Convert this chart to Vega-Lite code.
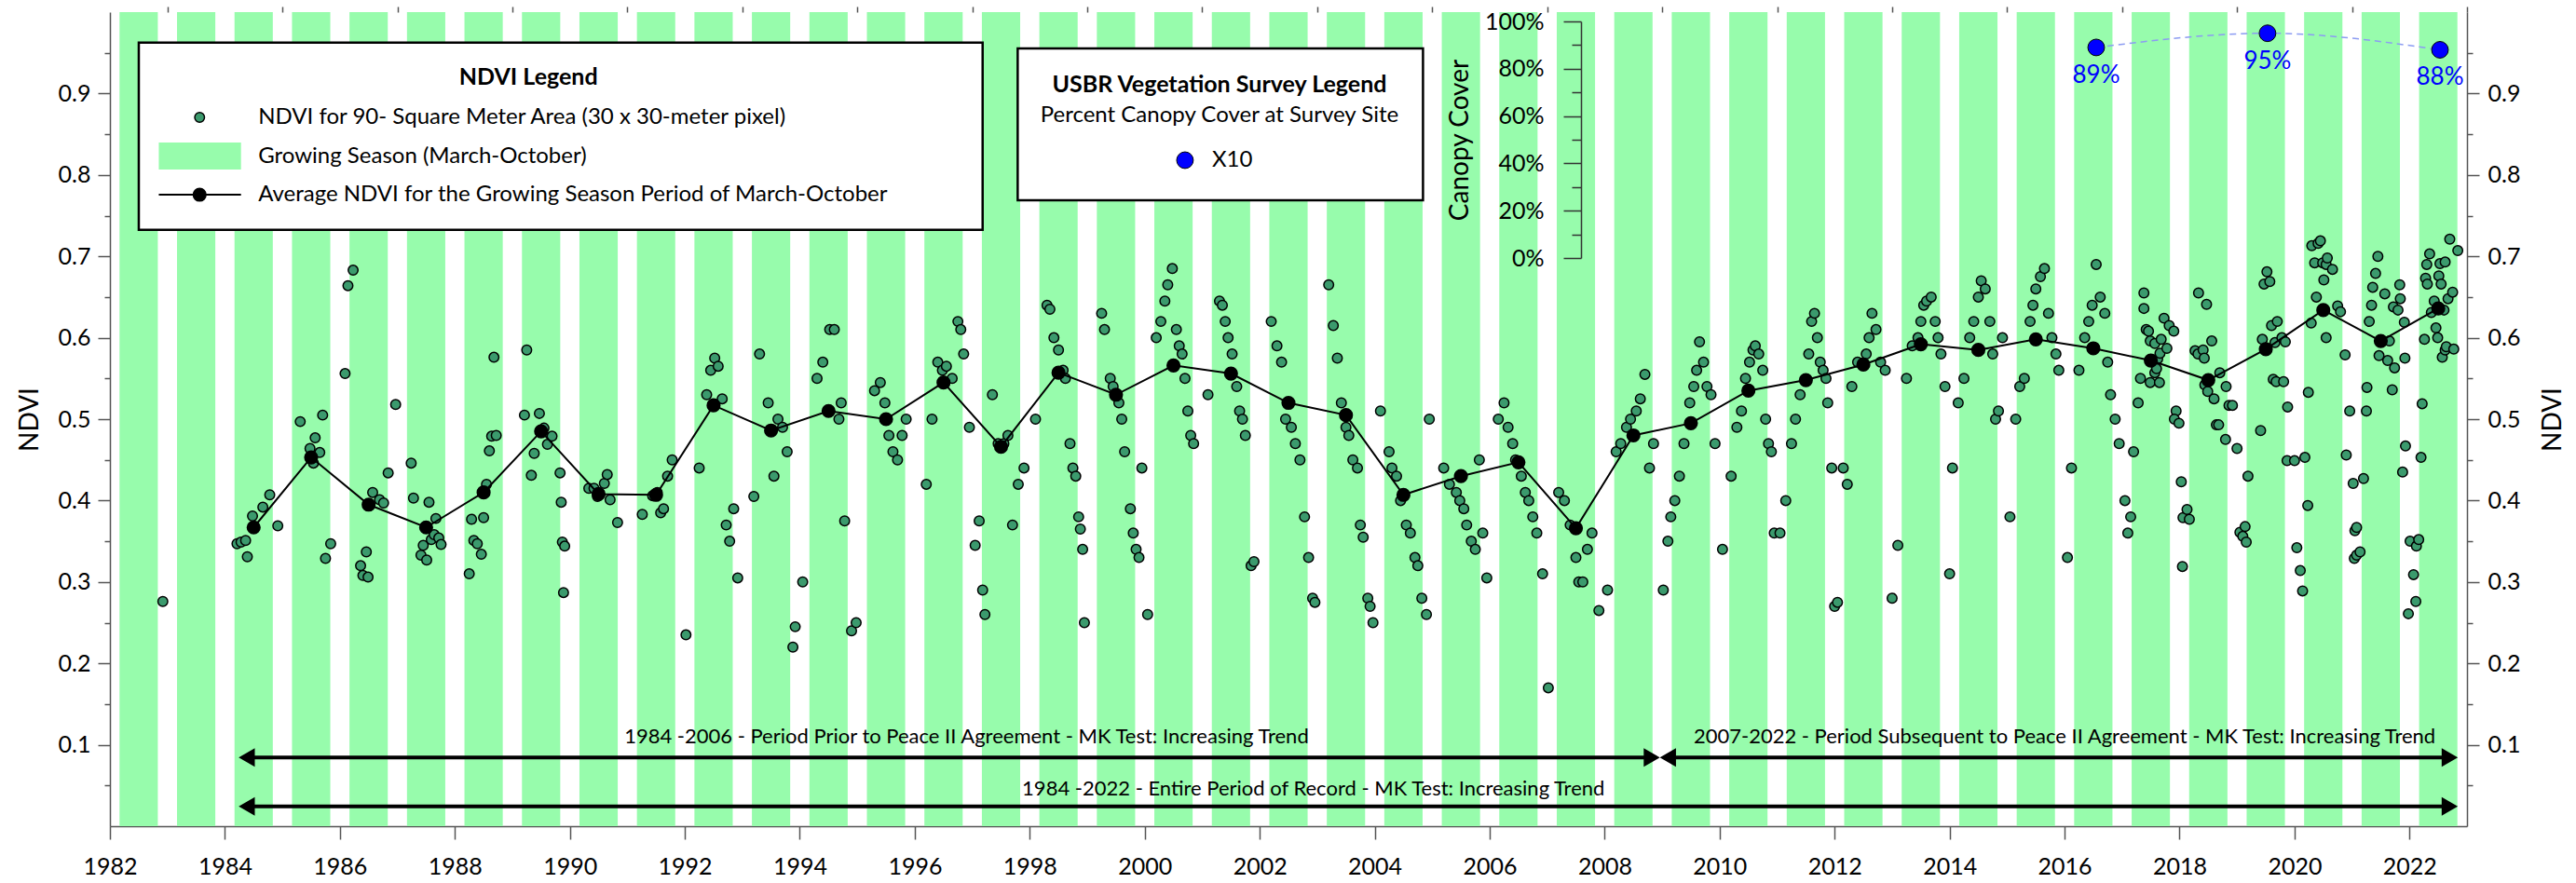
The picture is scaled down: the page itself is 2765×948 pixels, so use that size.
{
"$schema": "https://vega.github.io/schema/vega-lite/v6.json",
"width": 2530, "height": 874,
"autosize": "none",
"padding": {"left": 118, "top": 13, "right": 117, "bottom": 61},
"background": "white",
"config": {
  "view": {"stroke": null},
  "font": "Lato",
  "axis": {"grid": false, "domainColor": "#555", "tickColor": "#555", "domainWidth": 1.5, "tickWidth": 1.5, "labelFont": "Lato", "labelFontSize": 25, "labelColor": "#000", "titleFont": "Lato", "titleFontSize": 28, "titleFontWeight": "normal", "titleColor": "#000"}
},
"datasets": {
  "bands": [
    {"s":1982.167,"e":1982.833},{"s":1983.167,"e":1983.833},{"s":1984.167,"e":1984.833},{"s":1985.167,"e":1985.833},{"s":1986.167,"e":1986.833},{"s":1987.167,"e":1987.833},{"s":1988.167,"e":1988.833},{"s":1989.167,"e":1989.833},{"s":1990.167,"e":1990.833},{"s":1991.167,"e":1991.833},{"s":1992.167,"e":1992.833},{"s":1993.167,"e":1993.833},{"s":1994.167,"e":1994.833},{"s":1995.167,"e":1995.833},{"s":1996.167,"e":1996.833},{"s":1997.167,"e":1997.833},{"s":1998.167,"e":1998.833},{"s":1999.167,"e":1999.833},{"s":2000.167,"e":2000.833},{"s":2001.167,"e":2001.833},{"s":2002.167,"e":2002.833},{"s":2003.167,"e":2003.833},{"s":2004.167,"e":2004.833},{"s":2005.167,"e":2005.833},{"s":2006.167,"e":2006.833},{"s":2007.167,"e":2007.833},{"s":2008.167,"e":2008.833},{"s":2009.167,"e":2009.833},{"s":2010.167,"e":2010.833},{"s":2011.167,"e":2011.833},{"s":2012.167,"e":2012.833},{"s":2013.167,"e":2013.833},{"s":2014.167,"e":2014.833},{"s":2015.167,"e":2015.833},{"s":2016.167,"e":2016.833},{"s":2017.167,"e":2017.833},{"s":2018.167,"e":2018.833},{"s":2019.167,"e":2019.833},{"s":2020.167,"e":2020.833},{"s":2021.167,"e":2021.833},{"s":2022.167,"e":2022.833}
  ],
  "ndvi": [
    {"t":1982.92,"v":0.276},
    {"t":1984.21,"v":0.347},{"t":1984.28,"v":0.349},{"t":1984.36,"v":0.351},{"t":1984.39,"v":0.331},{"t":1984.48,"v":0.381},{"t":1984.66,"v":0.392},{"t":1984.78,"v":0.407},{"t":1984.92,"v":0.369},
    {"t":1985.31,"v":0.497},{"t":1985.48,"v":0.464},{"t":1985.57,"v":0.477},{"t":1985.54,"v":0.446},{"t":1985.65,"v":0.459},{"t":1985.70,"v":0.505},{"t":1985.75,"v":0.329},{"t":1985.84,"v":0.347},
    {"t":1986.09,"v":0.556},{"t":1986.14,"v":0.664},{"t":1986.23,"v":0.683},{"t":1986.36,"v":0.320},{"t":1986.40,"v":0.308},{"t":1986.46,"v":0.337},{"t":1986.49,"v":0.306},{"t":1986.57,"v":0.410},{"t":1986.69,"v":0.401},{"t":1986.76,"v":0.397},{"t":1986.84,"v":0.434},{"t":1986.97,"v":0.518},
    {"t":1987.24,"v":0.446},{"t":1987.28,"v":0.403},{"t":1987.41,"v":0.333},{"t":1987.45,"v":0.345},{"t":1987.51,"v":0.327},{"t":1987.55,"v":0.398},{"t":1987.59,"v":0.352},{"t":1987.64,"v":0.358},{"t":1987.67,"v":0.378},{"t":1987.72,"v":0.354},{"t":1987.76,"v":0.346},
    {"t":1988.25,"v":0.310},{"t":1988.29,"v":0.377},{"t":1988.33,"v":0.351},{"t":1988.39,"v":0.347},{"t":1988.46,"v":0.334},{"t":1988.50,"v":0.379},{"t":1988.55,"v":0.420},{"t":1988.60,"v":0.461},{"t":1988.64,"v":0.479},{"t":1988.72,"v":0.480},{"t":1988.68,"v":0.576},
    {"t":1989.21,"v":0.505},{"t":1989.25,"v":0.585},{"t":1989.33,"v":0.431},{"t":1989.38,"v":0.458},{"t":1989.47,"v":0.507},{"t":1989.55,"v":0.489},{"t":1989.61,"v":0.469},{"t":1989.69,"v":0.479},{"t":1989.83,"v":0.434},{"t":1989.85,"v":0.398},{"t":1989.87,"v":0.349},{"t":1989.91,"v":0.344},{"t":1989.89,"v":0.287},
    {"t":1990.33,"v":0.415},{"t":1990.42,"v":0.415},{"t":1990.48,"v":0.405},{"t":1990.49,"v":0.408},{"t":1990.60,"v":0.421},{"t":1990.65,"v":0.432},{"t":1990.70,"v":0.401},{"t":1990.83,"v":0.373},
    {"t":1991.26,"v":0.383},{"t":1991.44,"v":0.406},{"t":1991.52,"v":0.41},{"t":1991.58,"v":0.385},{"t":1991.63,"v":0.39},{"t":1991.70,"v":0.43},{"t":1991.78,"v":0.45},{"t":1992.02,"v":0.235},
    {"t":1992.25,"v":0.44},{"t":1992.38,"v":0.53},{"t":1992.45,"v":0.56},{"t":1992.52,"v":0.575},{"t":1992.58,"v":0.565},{"t":1992.65,"v":0.525},{"t":1992.72,"v":0.37},{"t":1992.78,"v":0.35},{"t":1992.85,"v":0.39},{"t":1992.92,"v":0.305},
    {"t":1993.20,"v":0.405},{"t":1993.30,"v":0.58},{"t":1993.45,"v":0.52},{"t":1993.55,"v":0.43},{"t":1993.62,"v":0.50},{"t":1993.70,"v":0.49},{"t":1993.78,"v":0.46},{"t":1993.88,"v":0.22},{"t":1993.92,"v":0.245},
    {"t":1994.05,"v":0.30},{"t":1994.30,"v":0.55},{"t":1994.40,"v":0.57},{"t":1994.52,"v":0.61},{"t":1994.60,"v":0.61},{"t":1994.68,"v":0.50},{"t":1994.72,"v":0.52},{"t":1994.78,"v":0.375},{"t":1994.90,"v":0.24},{"t":1994.98,"v":0.25},
    {"t":1995.30,"v":0.535},{"t":1995.40,"v":0.545},{"t":1995.48,"v":0.52},{"t":1995.55,"v":0.48},{"t":1995.62,"v":0.46},{"t":1995.70,"v":0.45},{"t":1995.78,"v":0.48},{"t":1995.85,"v":0.50},
    {"t":1996.20,"v":0.42},{"t":1996.30,"v":0.50},{"t":1996.40,"v":0.57},{"t":1996.48,"v":0.56},{"t":1996.55,"v":0.565},{"t":1996.65,"v":0.55},{"t":1996.75,"v":0.62},{"t":1996.80,"v":0.61},{"t":1996.85,"v":0.58},{"t":1996.95,"v":0.49},
    {"t":1997.05,"v":0.345},{"t":1997.12,"v":0.375},{"t":1997.18,"v":0.29},{"t":1997.22,"v":0.26},{"t":1997.35,"v":0.53},{"t":1997.45,"v":0.47},{"t":1997.55,"v":0.47},{"t":1997.62,"v":0.48},{"t":1997.70,"v":0.37},{"t":1997.80,"v":0.42},{"t":1997.90,"v":0.44},
    {"t":1998.10,"v":0.50},{"t":1998.30,"v":0.64},{"t":1998.35,"v":0.635},{"t":1998.42,"v":0.60},{"t":1998.50,"v":0.585},{"t":1998.58,"v":0.56},{"t":1998.62,"v":0.55},{"t":1998.70,"v":0.47},{"t":1998.75,"v":0.44},{"t":1998.80,"v":0.43},{"t":1998.85,"v":0.38},{"t":1998.88,"v":0.365},{"t":1998.92,"v":0.34},{"t":1998.95,"v":0.25},
    {"t":1999.25,"v":0.63},{"t":1999.30,"v":0.61},{"t":1999.40,"v":0.55},{"t":1999.45,"v":0.54},{"t":1999.55,"v":0.52},{"t":1999.60,"v":0.50},{"t":1999.65,"v":0.46},{"t":1999.75,"v":0.39},{"t":1999.80,"v":0.36},{"t":1999.85,"v":0.34},{"t":1999.90,"v":0.33},{"t":1999.95,"v":0.44},
    {"t":2000.05,"v":0.26},{"t":2000.20,"v":0.60},{"t":2000.28,"v":0.62},{"t":2000.35,"v":0.645},{"t":2000.40,"v":0.665},{"t":2000.48,"v":0.685},{"t":2000.55,"v":0.61},{"t":2000.60,"v":0.59},{"t":2000.65,"v":0.58},{"t":2000.70,"v":0.55},{"t":2000.75,"v":0.51},{"t":2000.80,"v":0.48},{"t":2000.85,"v":0.47},
    {"t":2001.10,"v":0.53},{"t":2001.30,"v":0.645},{"t":2001.35,"v":0.64},{"t":2001.40,"v":0.62},{"t":2001.45,"v":0.60},{"t":2001.52,"v":0.58},{"t":2001.60,"v":0.54},{"t":2001.65,"v":0.51},{"t":2001.70,"v":0.50},{"t":2001.75,"v":0.48},{"t":2001.85,"v":0.32},{"t":2001.90,"v":0.325},
    {"t":2002.20,"v":0.62},{"t":2002.30,"v":0.59},{"t":2002.38,"v":0.57},{"t":2002.45,"v":0.50},{"t":2002.55,"v":0.49},{"t":2002.62,"v":0.47},{"t":2002.70,"v":0.45},{"t":2002.78,"v":0.38},{"t":2002.85,"v":0.33},{"t":2002.92,"v":0.28},{"t":2002.96,"v":0.275},
    {"t":2003.20,"v":0.665},{"t":2003.28,"v":0.615},{"t":2003.35,"v":0.575},{"t":2003.42,"v":0.52},{"t":2003.50,"v":0.49},{"t":2003.55,"v":0.48},{"t":2003.62,"v":0.45},{"t":2003.70,"v":0.44},{"t":2003.75,"v":0.37},{"t":2003.80,"v":0.355},{"t":2003.88,"v":0.28},{"t":2003.92,"v":0.27},{"t":2003.97,"v":0.25},
    {"t":2004.10,"v":0.51},{"t":2004.25,"v":0.46},{"t":2004.30,"v":0.44},{"t":2004.38,"v":0.43},{"t":2004.45,"v":0.40},{"t":2004.55,"v":0.37},{"t":2004.62,"v":0.36},{"t":2004.70,"v":0.33},{"t":2004.75,"v":0.32},{"t":2004.82,"v":0.28},{"t":2004.90,"v":0.26},{"t":2004.95,"v":0.50},
    {"t":2005.20,"v":0.44},{"t":2005.30,"v":0.42},{"t":2005.42,"v":0.41},{"t":2005.48,"v":0.40},{"t":2005.55,"v":0.39},{"t":2005.60,"v":0.37},{"t":2005.68,"v":0.35},{"t":2005.75,"v":0.34},{"t":2005.82,"v":0.45},{"t":2005.88,"v":0.36},{"t":2005.95,"v":0.305},
    {"t":2006.15,"v":0.50},{"t":2006.25,"v":0.52},{"t":2006.32,"v":0.49},{"t":2006.40,"v":0.47},{"t":2006.45,"v":0.45},{"t":2006.55,"v":0.43},{"t":2006.62,"v":0.41},{"t":2006.68,"v":0.40},{"t":2006.75,"v":0.38},{"t":2006.82,"v":0.36},{"t":2006.92,"v":0.31},
    {"t":2007.02,"v":0.17},{"t":2007.20,"v":0.41},{"t":2007.30,"v":0.40},{"t":2007.40,"v":0.37},{"t":2007.50,"v":0.33},{"t":2007.55,"v":0.30},{"t":2007.62,"v":0.30},{"t":2007.70,"v":0.34},{"t":2007.78,"v":0.36},{"t":2007.90,"v":0.265},
    {"t":2008.05,"v":0.29},{"t":2008.20,"v":0.46},{"t":2008.28,"v":0.47},{"t":2008.38,"v":0.49},{"t":2008.45,"v":0.50},{"t":2008.55,"v":0.51},{"t":2008.62,"v":0.525},{"t":2008.70,"v":0.555},{"t":2008.78,"v":0.44},{"t":2008.85,"v":0.47},
    {"t":2009.02,"v":0.29},{"t":2009.10,"v":0.35},{"t":2009.15,"v":0.38},{"t":2009.22,"v":0.40},{"t":2009.30,"v":0.43},{"t":2009.38,"v":0.47},{"t":2009.48,"v":0.52},{"t":2009.55,"v":0.54},{"t":2009.60,"v":0.56},{"t":2009.65,"v":0.595},{"t":2009.72,"v":0.57},{"t":2009.78,"v":0.54},{"t":2009.85,"v":0.53},{"t":2009.92,"v":0.47},
    {"t":2010.05,"v":0.34},{"t":2010.20,"v":0.43},{"t":2010.30,"v":0.49},{"t":2010.38,"v":0.51},{"t":2010.45,"v":0.55},{"t":2010.52,"v":0.57},{"t":2010.58,"v":0.585},{"t":2010.62,"v":0.59},{"t":2010.68,"v":0.58},{"t":2010.75,"v":0.56},{"t":2010.80,"v":0.50},{"t":2010.85,"v":0.47},{"t":2010.90,"v":0.46},{"t":2010.95,"v":0.36},
    {"t":2011.05,"v":0.36},{"t":2011.15,"v":0.40},{"t":2011.25,"v":0.47},{"t":2011.32,"v":0.50},{"t":2011.40,"v":0.53},{"t":2011.55,"v":0.58},{"t":2011.60,"v":0.62},{"t":2011.65,"v":0.63},{"t":2011.70,"v":0.60},{"t":2011.75,"v":0.57},{"t":2011.80,"v":0.56},{"t":2011.85,"v":0.55},{"t":2011.88,"v":0.52},{"t":2011.95,"v":0.44},
    {"t":2012.00,"v":0.27},{"t":2012.05,"v":0.275},{"t":2012.15,"v":0.44},{"t":2012.22,"v":0.42},{"t":2012.30,"v":0.54},{"t":2012.40,"v":0.57},{"t":2012.55,"v":0.58},{"t":2012.60,"v":0.60},{"t":2012.65,"v":0.63},{"t":2012.72,"v":0.61},{"t":2012.80,"v":0.57},{"t":2012.88,"v":0.56},
    {"t":2013.00,"v":0.28},{"t":2013.10,"v":0.345},{"t":2013.25,"v":0.55},{"t":2013.35,"v":0.59},{"t":2013.45,"v":0.60},{"t":2013.50,"v":0.62},{"t":2013.55,"v":0.64},{"t":2013.60,"v":0.645},{"t":2013.68,"v":0.65},{"t":2013.75,"v":0.62},{"t":2013.80,"v":0.60},{"t":2013.85,"v":0.58},{"t":2013.92,"v":0.54},
    {"t":2014.00,"v":0.31},{"t":2014.05,"v":0.44},{"t":2014.15,"v":0.52},{"t":2014.25,"v":0.55},{"t":2014.35,"v":0.60},{"t":2014.42,"v":0.62},{"t":2014.50,"v":0.65},{"t":2014.55,"v":0.67},{"t":2014.62,"v":0.66},{"t":2014.70,"v":0.62},{"t":2014.75,"v":0.58},{"t":2014.80,"v":0.50},{"t":2014.85,"v":0.51},{"t":2014.92,"v":0.60},
    {"t":2015.05,"v":0.38},{"t":2015.15,"v":0.50},{"t":2015.22,"v":0.54},{"t":2015.30,"v":0.55},{"t":2015.40,"v":0.62},{"t":2015.45,"v":0.64},{"t":2015.50,"v":0.66},{"t":2015.58,"v":0.675},{"t":2015.65,"v":0.685},{"t":2015.72,"v":0.63},{"t":2015.78,"v":0.60},{"t":2015.85,"v":0.58},{"t":2015.90,"v":0.56},
    {"t":2016.05,"v":0.33},{"t":2016.12,"v":0.44},{"t":2016.25,"v":0.56},{"t":2016.35,"v":0.60},{"t":2016.42,"v":0.62},{"t":2016.48,"v":0.64},{"t":2016.55,"v":0.69},{"t":2016.62,"v":0.65},{"t":2016.70,"v":0.63},{"t":2016.75,"v":0.57},{"t":2016.80,"v":0.53},{"t":2016.88,"v":0.50},{"t":2016.95,"v":0.47},
    {"t":2017.05,"v":0.40},{"t":2017.10,"v":0.36},{"t":2017.15,"v":0.38},{"t":2017.20,"v":0.46},{"t":2017.28,"v":0.52},{"t":2017.32,"v":0.55},
    {"t":2017.38,"v":0.655},{"t":2017.38,"v":0.636},{"t":2017.42,"v":0.610},{"t":2017.46,"v":0.608},{"t":2017.49,"v":0.596},{"t":2017.49,"v":0.545},{"t":2017.57,"v":0.593},{"t":2017.57,"v":0.557},{"t":2017.60,"v":0.562},{"t":2017.62,"v":0.574},{"t":2017.65,"v":0.545},{"t":2017.66,"v":0.581},{"t":2017.68,"v":0.598},{"t":2017.73,"v":0.624},{"t":2017.78,"v":0.587},{"t":2017.82,"v":0.615},{"t":2017.90,"v":0.608},{"t":2017.94,"v":0.510},{"t":2017.91,"v":0.500},{"t":2017.99,"v":0.495},{"t":2018.03,"v":0.423},{"t":2018.06,"v":0.379},{"t":2018.13,"v":0.389},{"t":2018.17,"v":0.377},{"t":2018.05,"v":0.319},
    {"t":2018.27,"v":0.584},{"t":2018.33,"v":0.655},{"t":2018.32,"v":0.580},{"t":2018.41,"v":0.585},{"t":2018.43,"v":0.575},{"t":2018.47,"v":0.641},{"t":2018.56,"v":0.596},{"t":2018.44,"v":0.542},{"t":2018.49,"v":0.534},{"t":2018.60,"v":0.525},{"t":2018.64,"v":0.493},{"t":2018.68,"v":0.493},{"t":2018.70,"v":0.557},{"t":2018.80,"v":0.475},{"t":2018.81,"v":0.540},{"t":2018.86,"v":0.517},{"t":2018.92,"v":0.517},
    {"t":2019.00,"v":0.464},{"t":2019.05,"v":0.361},{"t":2019.10,"v":0.356},{"t":2019.16,"v":0.349},{"t":2019.14,"v":0.368},{"t":2019.19,"v":0.430},{"t":2019.41,"v":0.486},{"t":2019.44,"v":0.598},{"t":2019.47,"v":0.666},{"t":2019.52,"v":0.681},{"t":2019.57,"v":0.669},{"t":2019.60,"v":0.615},{"t":2019.63,"v":0.549},{"t":2019.66,"v":0.594},{"t":2019.68,"v":0.546},{"t":2019.70,"v":0.620},{"t":2019.78,"v":0.600},{"t":2019.81,"v":0.546},{"t":2019.84,"v":0.595},{"t":2019.87,"v":0.449},{"t":2019.88,"v":0.515},
    {"t":2020.00,"v":0.449},{"t":2020.04,"v":0.342},{"t":2020.10,"v":0.314},{"t":2020.14,"v":0.289},{"t":2020.18,"v":0.453},{"t":2020.23,"v":0.394},{"t":2020.24,"v":0.533},{"t":2020.29,"v":0.618},{"t":2020.30,"v":0.713},{"t":2020.35,"v":0.692},{"t":2020.38,"v":0.650},{"t":2020.41,"v":0.716},{"t":2020.45,"v":0.719},{"t":2020.49,"v":0.692},{"t":2020.51,"v":0.671},{"t":2020.55,"v":0.690},{"t":2020.57,"v":0.698},{"t":2020.55,"v":0.600},{"t":2020.66,"v":0.684},{"t":2020.75,"v":0.639},{"t":2020.80,"v":0.632},{"t":2020.88,"v":0.579},
    {"t":2020.90,"v":0.456},{"t":2020.96,"v":0.510},{"t":2021.02,"v":0.421},{"t":2021.05,"v":0.363},{"t":2021.08,"v":0.367},{"t":2021.04,"v":0.329},{"t":2021.08,"v":0.333},{"t":2021.14,"v":0.337},{"t":2021.20,"v":0.427},{"t":2021.26,"v":0.539},{"t":2021.25,"v":0.510},{"t":2021.30,"v":0.620},{"t":2021.34,"v":0.640},{"t":2021.36,"v":0.662},{"t":2021.41,"v":0.679},{"t":2021.45,"v":0.700},{"t":2021.47,"v":0.578},{"t":2021.57,"v":0.654},{"t":2021.62,"v":0.572},{"t":2021.65,"v":0.596},{"t":2021.70,"v":0.536},{"t":2021.74,"v":0.563},{"t":2021.72,"v":0.638},{"t":2021.80,"v":0.634},{"t":2021.83,"v":0.665},{"t":2021.84,"v":0.648},{"t":2021.91,"v":0.619},{"t":2021.92,"v":0.575},{"t":2021.88,"v":0.435},{"t":2021.93,"v":0.467},
    {"t":2021.98,"v":0.261},{"t":2022.01,"v":0.350},{"t":2022.07,"v":0.309},{"t":2022.12,"v":0.344},{"t":2022.11,"v":0.276},{"t":2022.16,"v":0.352},{"t":2022.20,"v":0.453},{"t":2022.22,"v":0.519},{"t":2022.26,"v":0.598},{"t":2022.28,"v":0.673},{"t":2022.30,"v":0.690},{"t":2022.31,"v":0.666},{"t":2022.35,"v":0.703},{"t":2022.38,"v":0.631},{"t":2022.43,"v":0.645},{"t":2022.46,"v":0.612},{"t":2022.49,"v":0.600},{"t":2022.51,"v":0.676},{"t":2022.53,"v":0.691},{"t":2022.55,"v":0.666},{"t":2022.57,"v":0.576},{"t":2022.60,"v":0.634},{"t":2022.62,"v":0.693},{"t":2022.62,"v":0.585},{"t":2022.64,"v":0.589},{"t":2022.67,"v":0.648},{"t":2022.70,"v":0.721},{"t":2022.75,"v":0.656},{"t":2022.77,"v":0.586},{"t":2022.84,"v":0.707}
  ],
  "avg": [
    {"t":1984.5,"v":0.367},{"t":1985.5,"v":0.453},{"t":1986.5,"v":0.395},{"t":1987.5,"v":0.367},{"t":1988.5,"v":0.41},{"t":1989.5,"v":0.485},{"t":1990.5,"v":0.408},{"t":1991.5,"v":0.407},{"t":1992.5,"v":0.517},{"t":1993.5,"v":0.486},{"t":1994.5,"v":0.51},{"t":1995.5,"v":0.50},{"t":1996.5,"v":0.545},{"t":1997.5,"v":0.466},{"t":1998.5,"v":0.557},{"t":1999.5,"v":0.53},{"t":2000.5,"v":0.566},{"t":2001.5,"v":0.556},{"t":2002.5,"v":0.52},{"t":2003.5,"v":0.505},{"t":2004.5,"v":0.407},{"t":2005.5,"v":0.43},{"t":2006.5,"v":0.447},{"t":2007.5,"v":0.366},{"t":2008.5,"v":0.48},{"t":2009.5,"v":0.495},{"t":2010.5,"v":0.535},{"t":2011.5,"v":0.548},{"t":2012.5,"v":0.567},{"t":2013.5,"v":0.592},{"t":2014.5,"v":0.585},{"t":2015.5,"v":0.598},{"t":2016.5,"v":0.587},{"t":2017.5,"v":0.572},{"t":2018.5,"v":0.548},{"t":2019.5,"v":0.586},{"t":2020.5,"v":0.634},{"t":2021.5,"v":0.596},{"t":2022.5,"v":0.636}
  ],
  "canopy": [
    {"t":2016.55,"c":89,"lab":"89%"},{"t":2019.53,"c":95,"lab":"95%"},{"t":2022.53,"c":88,"lab":"88%"}
  ],
  "rules": [
    {"a":1984.38,"b":2008.82,"y":0.0843},{"a":2009.10,"b":2022.70,"y":0.0843},{"a":1984.38,"b":2022.70,"y":0.0244}
  ],
  "heads": [
    {"t":1984.38,"y":0.0843,"d":"left"},{"t":2008.82,"y":0.0843,"d":"right"},{"t":2009.10,"y":0.0843,"d":"left"},{"t":2022.70,"y":0.0843,"d":"right"},{"t":1984.38,"y":0.0244,"d":"left"},{"t":2022.70,"y":0.0244,"d":"right"}
  ],
  "notesCenter": [
    {"t":1996.9,"y":0.110,"txt":"1984 -2006 - Period Prior to Peace II Agreement - MK Test: Increasing Trend"},
    {"t":2016.0,"y":0.110,"txt":"2007-2022 - Period Subsequent to Peace II Agreement - MK Test: Increasing Trend"}
  ],
  "notesRight": [
    {"t":2008.0,"y":0.0458,"txt":"1984 -2022 - Entire Period of Record - MK Test: Increasing Trend"}
  ],
  "legBoxes": [
    {"x1":1982.502,"x2":1997.18,"y1":0.9626,"y2":0.7326},
    {"x1":1997.79,"x2":2004.84,"y1":0.9554,"y2":0.7689}
  ],
  "legTitles": [
    {"t":1989.28,"y":0.920,"txt":"NDVI Legend"},
    {"t":2001.30,"y":0.9108,"txt":"USBR Vegetation Survey Legend"}
  ],
  "legCenter": [
    {"t":2001.30,"y":0.8730,"txt":"Percent Canopy Cover at Survey Site"}
  ],
  "legLeft": [
    {"t":1984.58,"y":0.8707,"txt":"NDVI for 90- Square Meter Area (30 x 30-meter pixel)"},
    {"t":1984.58,"y":0.8227,"txt":"Growing Season (March-October)"},
    {"t":1984.58,"y":0.7757,"txt":"Average NDVI for the Growing Season Period of March-October"},
    {"t":2001.17,"y":0.8181,"txt":"X10"}
  ],
  "legGreenDot": [{"t":1983.56,"y":0.8707}],
  "legRect": [{"x1":1982.85,"x2":1984.28,"y1":0.8398,"y2":0.8066}],
  "legLine": [{"x1":1982.85,"x2":1984.28,"y":0.7757}],
  "legBlackDot": [{"t":1983.56,"y":0.7757}],
  "legBlueDot": [{"t":2000.70,"y":0.8181}]
},
"layer": [
  {
    "layer": [
      {
        "data": {"name": "bands"},
        "mark": {"type": "rect", "color": "#97fcac", "opacity": 1},
        "encoding": {
          "x": {"field": "s", "type": "quantitative", "scale": {"domain": [1982, 2023], "nice": false, "zero": false},
                "axis": {"values": [1982,1984,1986,1988,1990,1992,1994,1996,1998,2000,2002,2004,2006,2008,2010,2012,2014,2016,2018,2020,2022], "format": "d", "tickSize": 14, "labelPadding": 17, "title": null, "labelOverlap": false, "labelFlush": false}},
          "x2": {"field": "e"}
        }
      },
      {
        "data": {"name": "legBoxes"},
        "mark": {"type": "rect", "fill": "white", "stroke": "#000", "strokeWidth": 2.5},
        "encoding": {
          "x": {"field": "x1", "type": "quantitative", "scale": {"domain": [1982, 2023]}, "axis": null},
          "x2": {"field": "x2"},
          "y": {"field": "y1", "type": "quantitative", "scale": {"domain": [0, 1]}, "axis": null},
          "y2": {"field": "y2"}
        }
      },
      {
        "data": {"name": "rules"},
        "mark": {"type": "rule", "stroke": "#000", "strokeWidth": 4},
        "encoding": {
          "x": {"field": "a", "type": "quantitative", "scale": {"domain": [1982, 2023]},
                "axis": {"values": [1983,1985,1987,1989,1991,1993,1995,1997,1999,2001,2003,2005,2007,2009,2011,2013,2015,2017,2019,2021,2023], "tickSize": 6, "labels": false, "domain": false, "title": null}},
          "x2": {"field": "b"},
          "y": {"field": "y", "type": "quantitative", "scale": {"domain": [0, 1]},
                "axis": {"orient": "right", "values": [0.05,0.15,0.25,0.35,0.45,0.55,0.65,0.75,0.85,0.95], "tickSize": 6, "labels": false, "domain": false, "title": null}}
        }
      },
      {
        "data": {"name": "heads"},
        "mark": {"type": "point", "filled": true, "color": "#000", "size": 400, "opacity": 1},
        "encoding": {
          "x": {"field": "t", "type": "quantitative", "scale": {"domain": [1982, 2023]}, "axis": null},
          "y": {"field": "y", "type": "quantitative", "scale": {"domain": [0, 1]},
                "axis": {"orient": "left", "values": [0.05,0.15,0.25,0.35,0.45,0.55,0.65,0.75,0.85,0.95], "tickSize": 6, "labels": false, "domain": false, "title": null}},
          "shape": {"field": "d", "type": "nominal", "scale": {"domain": ["left", "right"], "range": ["triangle-left", "triangle-right"]}, "legend": null}
        }
      },
      {
        "data": {"name": "notesCenter"},
        "mark": {"type": "text", "fontSize": 22, "color": "#000", "align": "center", "baseline": "middle"},
        "encoding": {
          "x": {"field": "t", "type": "quantitative", "scale": {"domain": [1982, 2023]}, "axis": null},
          "y": {"field": "y", "type": "quantitative", "scale": {"domain": [0, 1]}, "axis": null},
          "text": {"field": "txt"}
        }
      },
      {
        "data": {"name": "notesRight"},
        "mark": {"type": "text", "fontSize": 22, "color": "#000", "align": "right", "baseline": "middle"},
        "encoding": {
          "x": {"field": "t", "type": "quantitative", "scale": {"domain": [1982, 2023]}, "axis": null},
          "y": {"field": "y", "type": "quantitative", "scale": {"domain": [0, 1]}, "axis": null},
          "text": {"field": "txt"}
        }
      },
      {
        "data": {"name": "ndvi"},
        "mark": {"type": "circle", "size": 110, "fill": "#3b9a6d", "stroke": "#000", "strokeWidth": 1.5, "opacity": 1},
        "encoding": {
          "x": {"field": "t", "type": "quantitative", "scale": {"domain": [1982, 2023]}, "axis": null},
          "y": {"field": "v", "type": "quantitative", "scale": {"domain": [0, 1], "nice": false, "zero": false},
                "axis": {"orient": "left", "values": [0.1,0.2,0.3,0.4,0.5,0.6,0.7,0.8,0.9], "format": ".1f", "tickSize": 13, "labelPadding": 8, "title": "NDVI", "titleX": -86, "titleY": 437, "titleAngle": -90, "titleAlign": "center", "titleBaseline": "middle"}}
        }
      },
      {
        "data": {"name": "avg"},
        "mark": {"type": "line", "stroke": "#000", "strokeWidth": 2},
        "encoding": {
          "x": {"field": "t", "type": "quantitative", "scale": {"domain": [1982, 2023]}, "axis": null},
          "y": {"field": "v", "type": "quantitative", "scale": {"domain": [0, 1]},
                "axis": {"orient": "right", "values": [0.1,0.2,0.3,0.4,0.5,0.6,0.7,0.8,0.9], "format": ".1f", "tickSize": 13, "labelPadding": 9, "title": "NDVI", "titleX": 92, "titleY": 437, "titleAngle": -90, "titleAlign": "center", "titleBaseline": "middle"}}
        }
      },
      {
        "data": {"name": "avg"},
        "mark": {"type": "circle", "size": 230, "color": "#000", "opacity": 1},
        "encoding": {
          "x": {"field": "t", "type": "quantitative", "scale": {"domain": [1982, 2023]}, "axis": null},
          "y": {"field": "v", "type": "quantitative", "scale": {"domain": [0, 1]}, "axis": null}
        }
      },
      {
        "data": {"name": "legRect"},
        "mark": {"type": "rect", "fill": "#97fcac"},
        "encoding": {
          "x": {"field": "x1", "type": "quantitative", "scale": {"domain": [1982, 2023]}, "axis": null},
          "x2": {"field": "x2"},
          "y": {"field": "y1", "type": "quantitative", "scale": {"domain": [0, 1]}, "axis": null},
          "y2": {"field": "y2"}
        }
      },
      {
        "data": {"name": "legLine"},
        "mark": {"type": "rule", "stroke": "#000", "strokeWidth": 2},
        "encoding": {
          "x": {"field": "x1", "type": "quantitative", "scale": {"domain": [1982, 2023]}, "axis": null},
          "x2": {"field": "x2"},
          "y": {"field": "y", "type": "quantitative", "scale": {"domain": [0, 1]}, "axis": null}
        }
      },
      {
        "data": {"name": "legBlackDot"},
        "mark": {"type": "circle", "size": 230, "color": "#000", "opacity": 1},
        "encoding": {
          "x": {"field": "t", "type": "quantitative", "scale": {"domain": [1982, 2023]}, "axis": null},
          "y": {"field": "y", "type": "quantitative", "scale": {"domain": [0, 1]}, "axis": null}
        }
      },
      {
        "data": {"name": "legGreenDot"},
        "mark": {"type": "circle", "size": 110, "fill": "#3b9a6d", "stroke": "#000", "strokeWidth": 1.5, "opacity": 1},
        "encoding": {
          "x": {"field": "t", "type": "quantitative", "scale": {"domain": [1982, 2023]}, "axis": null},
          "y": {"field": "y", "type": "quantitative", "scale": {"domain": [0, 1]}, "axis": null}
        }
      },
      {
        "data": {"name": "legBlueDot"},
        "mark": {"type": "circle", "size": 320, "fill": "#0000ff", "stroke": "#000", "strokeWidth": 1, "opacity": 1},
        "encoding": {
          "x": {"field": "t", "type": "quantitative", "scale": {"domain": [1982, 2023]}, "axis": null},
          "y": {"field": "y", "type": "quantitative", "scale": {"domain": [0, 1]}, "axis": null}
        }
      },
      {
        "data": {"name": "legTitles"},
        "mark": {"type": "text", "fontSize": 25, "fontWeight": "bold", "color": "#000", "align": "center", "baseline": "middle"},
        "encoding": {
          "x": {"field": "t", "type": "quantitative", "scale": {"domain": [1982, 2023]}, "axis": null},
          "y": {"field": "y", "type": "quantitative", "scale": {"domain": [0, 1]}, "axis": null},
          "text": {"field": "txt"}
        }
      },
      {
        "data": {"name": "legCenter"},
        "mark": {"type": "text", "fontSize": 24, "color": "#000", "align": "center", "baseline": "middle"},
        "encoding": {
          "x": {"field": "t", "type": "quantitative", "scale": {"domain": [1982, 2023]}, "axis": null},
          "y": {"field": "y", "type": "quantitative", "scale": {"domain": [0, 1]}, "axis": null},
          "text": {"field": "txt"}
        }
      },
      {
        "data": {"name": "legLeft"},
        "mark": {"type": "text", "fontSize": 24, "color": "#000", "align": "left", "baseline": "middle"},
        "encoding": {
          "x": {"field": "t", "type": "quantitative", "scale": {"domain": [1982, 2023]}, "axis": null},
          "y": {"field": "y", "type": "quantitative", "scale": {"domain": [0, 1]}, "axis": null},
          "text": {"field": "txt"}
        }
      }
    ],
    "resolve": {"axis": {"x": "independent", "y": "independent"}}
  },
  {
    "data": {"name": "canopy"},
    "layer": [
      {
        "mark": {"type": "line", "interpolate": "monotone", "stroke": "#8c9cf2", "strokeWidth": 1.5, "strokeDash": [7, 5]},
        "encoding": {
          "x": {"field": "t", "type": "quantitative", "scale": {"domain": [1982, 2023]}, "axis": null},
          "y": {"field": "c", "type": "quantitative", "scale": {"domain": [0, 100], "range": [264, 10], "nice": false, "zero": false},
                "axis": {"orient": "left", "offset": -1579, "zindex": 1, "values": [10,30,50,70,90], "tickSize": 10, "labels": false, "domain": false, "title": null, "tickColor": "#333"}}
        }
      },
      {
        "mark": {"type": "circle", "size": 320, "fill": "#0000ff", "stroke": "#000", "strokeWidth": 1, "opacity": 1},
        "encoding": {
          "x": {"field": "t", "type": "quantitative", "scale": {"domain": [1982, 2023]}, "axis": null},
          "y": {"field": "c", "type": "quantitative", "scale": {"domain": [0, 100], "range": [264, 10]},
                "axis": {"orient": "left", "offset": -1579, "zindex": 1, "values": [0,20,40,60,80,100], "labelExpr": "datum.value + '%'", "tickSize": 19, "labelPadding": 21, "domainColor": "#333", "tickColor": "#333", "title": "Canopy Cover", "titleX": -130, "titleY": 137, "titleAngle": -90, "titleAlign": "center", "titleBaseline": "middle", "titleFontSize": 28}}
        }
      },
      {
        "mark": {"type": "text", "dy": 30, "fontSize": 26, "color": "#0000ff", "baseline": "middle", "align": "center"},
        "encoding": {
          "x": {"field": "t", "type": "quantitative", "scale": {"domain": [1982, 2023]}, "axis": null},
          "y": {"field": "c", "type": "quantitative", "scale": {"domain": [0, 100], "range": [264, 10]}, "axis": null},
          "text": {"field": "lab"}
        }
      }
    ],
    "resolve": {"axis": {"y": "independent"}}
  }
],
"resolve": {"scale": {"y": "independent"}, "axis": {"y": "independent"}}
}
